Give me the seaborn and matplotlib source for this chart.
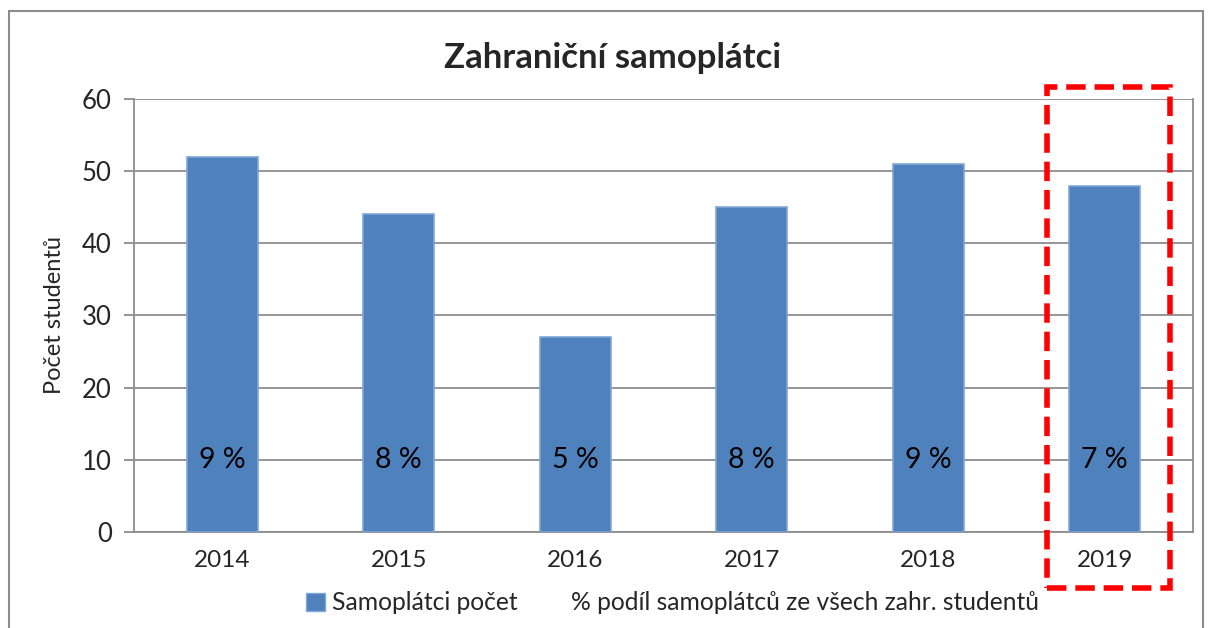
import pandas as pd
import matplotlib.pyplot as plt
import seaborn as sns
from matplotlib.patches import Rectangle, Patch
from matplotlib.lines import Line2D

# Data
roky = ["2014", "2015", "2016", "2017", "2018", "2019"]
pocet = [52, 44, 27, 45, 51, 48]
podil = ["9 %", "8 %", "5 %", "8 %", "9 %", "7 %"]

df = pd.DataFrame({"Rok": roky, "Počet": pocet})

sns.set_style("white")
plt.rcParams["font.family"] = ["Lato", "DejaVu Sans"]

fig = plt.figure(figsize=(12.09, 6.28), dpi=100)
ax = fig.add_axes([0.1108, 0.1529, 0.8760, 0.6895])

modra = "#4F81BD"
ax = sns.barplot(data=df, x="Rok", y="Počet", color=modra, width=0.40,
                 edgecolor="#7FA7D8", linewidth=1.2, saturation=1, ax=ax, zorder=3)

ax.set_ylim(0, 60)
ax.set_xlim(-0.5, len(roky) - 0.5)
ax.set_yticks(range(0, 61, 10))
ax.yaxis.grid(True, color="#8C8C8C", linewidth=1.3, zorder=0)
ax.set_axisbelow(True)

for s in ["left", "right", "bottom"]:
    ax.spines[s].set_color("#8C8C8C")
    ax.spines[s].set_linewidth(1.3)
ax.spines["top"].set_visible(False)

# tick marks between categories
ax.set_xticks([i + 0.5 for i in range(-1, len(roky))], minor=True)
ax.tick_params(axis="x", which="minor", length=7, color="#8C8C8C", width=1.3)
ax.tick_params(axis="x", which="major", length=0, labelsize=17.5, pad=13)
ax.tick_params(axis="y", length=7, color="#8C8C8C", width=1.3, labelsize=18.5, pad=9, left=True)

ax.set_xlabel("")
ax.set_ylabel("Počet studentů", fontsize=17, labelpad=12)

# procentní podíl v sloupcích
for i, t in enumerate(podil):
    ax.text(i, 10, t, ha="center", va="center", fontsize=20.5, color="black", zorder=4)

fig.text(0.507, 0.908, "Zahraniční samoplátci", ha="center", va="center",
         fontsize=25, fontweight="bold")

# červený čárkovaný rámeček kolem 2019
ax.add_patch(Rectangle((5 - 0.327, -7.76), 0.695, 69.4, fill=False,
                       edgecolor="#FF0000", linewidth=4, linestyle=(0, (3.5, 1.6)),
                       clip_on=False, zorder=5))

# vnější rámeček grafu
fig.add_artist(Rectangle((0.0075, -0.05), 0.9875, 1.032, transform=fig.transFigure,
                         fill=False, edgecolor="#8C8C8C", linewidth=1.5))

handles = [Patch(facecolor=modra, edgecolor="#7FA7D8"),
           Line2D([], [], color="none")]
labels = ["Samoplátci počet", "% podíl samoplátců ze všech zahr. studentů"]
fig.legend(handles, labels, loc="center left", bbox_to_anchor=(0.235, 0.04),
           ncol=2, frameon=False, fontsize=17.7, handlelength=0.75, handleheight=0.75,
           handletextpad=0.3, columnspacing=1.13)

fig.savefig("out.png", dpi=100)
